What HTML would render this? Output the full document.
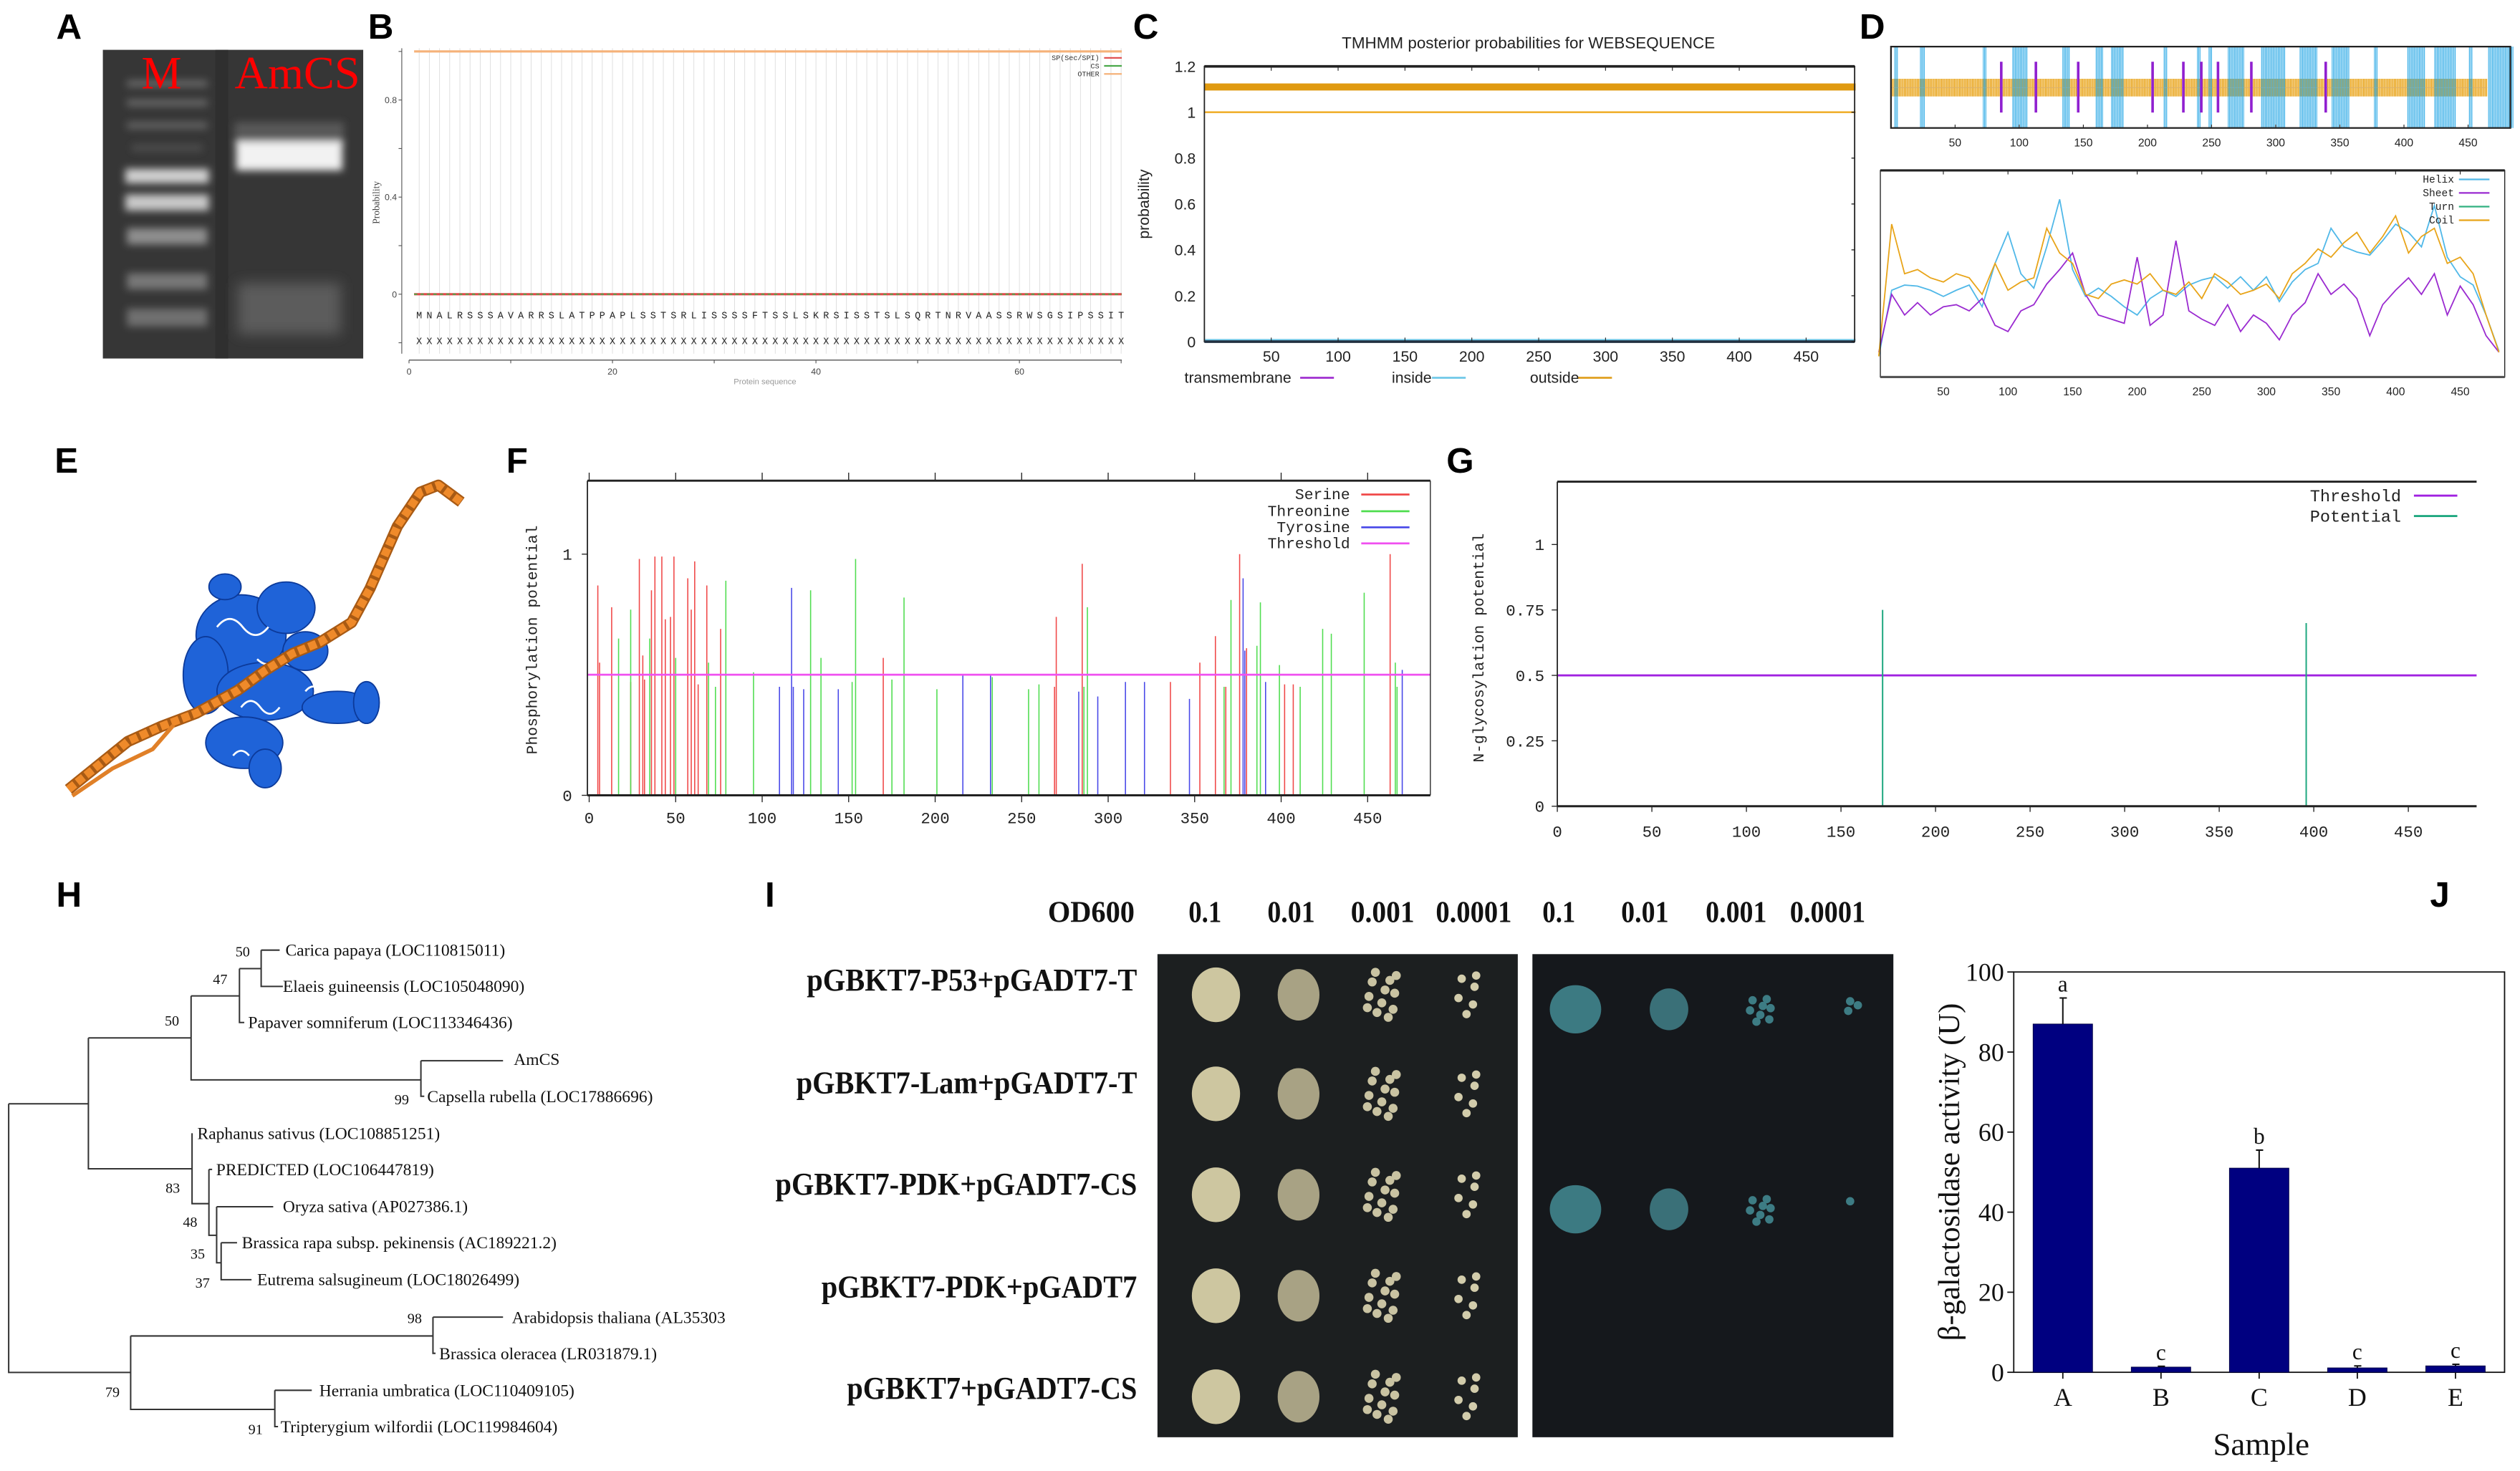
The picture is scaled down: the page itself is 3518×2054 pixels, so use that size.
<!DOCTYPE html>
<html><head><meta charset="utf-8"><style>
html,body{margin:0;padding:0;background:#fff;}
svg{display:block;}
.pl{font-family:"Liberation Sans",sans-serif;font-weight:bold;font-size:22px;}
.tm{font-family:"Liberation Serif",serif;}
.mono{font-family:"Liberation Mono",monospace;}
.sans{font-family:"Liberation Sans",sans-serif;}
</style></head><body>
<svg id="fig" xmlns="http://www.w3.org/2000/svg" width="3518" height="2054" viewBox="0 0 1568 915" preserveAspectRatio="none">
<defs>
<filter id="blur1" x="-30%" y="-100%" width="160%" height="300%"><feGaussianBlur stdDeviation="2.4"/></filter>
<filter id="blur2" x="-30%" y="-60%" width="160%" height="220%"><feGaussianBlur stdDeviation="4"/></filter>
</defs>
<rect x="0" y="0" width="1568" height="915" fill="#fff"/>
<text class="pl" x="35" y="24">A</text>
<text class="pl" x="229" y="24">B</text>
<text class="pl" x="705" y="24">C</text>
<text class="pl" x="1157" y="24">D</text>
<text class="pl" x="34" y="294">E</text>
<text class="pl" x="315" y="294">F</text>
<text class="pl" x="900" y="294">G</text>
<text class="pl" x="35" y="564">H</text>
<text class="pl" x="476" y="564">I</text>
<text class="pl" x="1512" y="564">J</text>

<g>
<rect x="64" y="31" width="162" height="192" fill="#363636"/>
<rect x="134" y="31" width="8" height="192" fill="#2f2f2f"/>
<g filter="url(#blur1)">
<rect x="79" y="50" width="50" height="4" fill="#6a6a6a"/>
<rect x="79" y="62" width="50" height="4" fill="#6a6a6a"/>
<rect x="79" y="76" width="50" height="4" fill="#666"/>
<rect x="82" y="90" width="44" height="4" fill="#505050"/>
<rect x="78" y="105" width="52" height="9" fill="#d0d0d0"/>
<rect x="78" y="121" width="52" height="10" fill="#c8c8c8"/>
<rect x="79" y="142" width="50" height="10" fill="#8e8e8e"/>
<rect x="79" y="170" width="50" height="10" fill="#777"/>
<rect x="79" y="192" width="50" height="11" fill="#707070"/>
</g>
<g filter="url(#blur1)">
<rect x="146" y="76" width="68" height="14" fill="#585858"/>
<rect x="147" y="88" width="66" height="18" fill="#f2f2f2"/>
</g>
<rect x="148" y="176" width="64" height="32" fill="#5c5c5c" filter="url(#blur2)"/>
<text class="tm" x="88" y="55" font-size="29" fill="#ff0000" textLength="25" lengthAdjust="spacingAndGlyphs">M</text>
<text class="tm" x="146" y="55" font-size="29" fill="#ff0000" textLength="78" lengthAdjust="spacingAndGlyphs">AmCS</text>
</g>

<g id="panelB"></g>
<g id="panelC"></g>
<g id="panelD"></g>

<g>
<g fill="#1f63d8" stroke="#0c3a9a" stroke-width="0.8">
<ellipse cx="150" cy="395" rx="28" ry="25"/>
<ellipse cx="178" cy="378" rx="18" ry="16"/>
<ellipse cx="128" cy="420" rx="14" ry="24"/>
<ellipse cx="165" cy="430" rx="30" ry="18"/>
<ellipse cx="152" cy="462" rx="24" ry="16"/>
<ellipse cx="165" cy="478" rx="10" ry="12"/>
<ellipse cx="210" cy="440" rx="22" ry="10"/>
<ellipse cx="228" cy="437" rx="8" ry="13"/>
<ellipse cx="190" cy="405" rx="14" ry="12"/>
<ellipse cx="140" cy="365" rx="10" ry="8"/>
</g>
<g fill="none" stroke="#fff" stroke-width="1.2">
<path d="M135 390 q8 -10 16 0 q8 10 16 0"/><path d="M150 440 q6 -8 12 0 q6 8 12 0"/><path d="M190 430 q5 -6 10 0"/><path d="M145 470 q5 -6 10 0"/><path d="M160 410 q6 6 12 0"/>
</g>
<polyline points="42.6,491 79.6,461.2 100,452 122.2,443.6 147.8,429.5 164.8,417.2 181.9,406.6 198.9,399.6 218.8,387.2 230.2,366.1 238.7,346.7 247.3,327.3 261.5,306.2 272.8,301.8 287,312.3" fill="none" stroke="#a85a14" stroke-width="7" stroke-linejoin="round"/>
<polyline points="42.6,491 79.6,461.2 100,452 122.2,443.6 147.8,429.5 164.8,417.2 181.9,406.6 198.9,399.6 218.8,387.2 230.2,366.1 238.7,346.7 247.3,327.3 261.5,306.2 272.8,301.8 287,312.3" fill="none" stroke="#ef8a2a" stroke-width="5" stroke-dasharray="5 2" stroke-linejoin="round"/>
<polyline points="45,495 70,478 95,466 108,451" fill="none" stroke="#e08028" stroke-width="2.5"/>
</g>

<g id="panelF"></g>
<g id="panelG"></g>

<g>
<path fill="none" stroke="#333" stroke-width="0.9" d="
M162.5 591 H174 M162.5 591 V613.6 H176
M149 602.5 H162.5 M149 602.5 V636 H152
M118.9 619.5 H149 M118.9 619.5 V671.7 H261.9
M261.9 659.8 H313 M261.9 659.8 V681.9 H264
M55 645.6 H118.9 M55 645.6 V727 H119.5
M119.5 704.9 V748.7 H130
M130 727.4 V768.4 H134.8 M130 727.4 H132
M134.8 750.6 H170 M134.8 750.6 V785.5 H137.6
M137.6 773 H147.5 M137.6 773 V796 H156.5
M5.4 686.6 H55 M5.4 686.6 V853.7 H81.3
M81.3 831 H269.4 M81.3 831 V876.7 H171
M269.4 819.3 H313 M269.4 819.3 V841.8 H271
M171 864.8 H194 M171 864.8 V887.4 H173"/>
<g class="tm" font-size="10.5" fill="#111">
<text x="177.6" y="594.5">Carica papaya (LOC110815011)</text>
<text x="176" y="617">Elaeis guineensis (LOC105048090)</text>
<text x="154.4" y="639.5">Papaver somniferum (LOC113346436)</text>
<text x="319.7" y="662.5">AmCS</text>
<text x="265.8" y="685.5">Capsella rubella (LOC17886696)</text>
<text x="122.8" y="708.5">Raphanus sativus (LOC108851251)</text>
<text x="134.5" y="731">PREDICTED (LOC106447819)</text>
<text x="176" y="754">Oryza sativa (AP027386.1)</text>
<text x="150.5" y="776.5">Brassica rapa subsp. pekinensis (AC189221.2)</text>
<text x="160" y="799.5">Eutrema salsugineum (LOC18026499)</text>
<text x="318.5" y="823">Arabidopsis thaliana (AL35303</text>
<text x="273.3" y="845.5">Brassica oleracea (LR031879.1)</text>
<text x="198.7" y="868.5">Herrania umbratica (LOC110409105)</text>
<text x="174.6" y="891">Tripterygium wilfordii (LOC119984604)</text>
</g>
<g class="tm" font-size="9" fill="#111" text-anchor="middle">
<text x="151" y="595">50</text><text x="137" y="612">47</text><text x="107" y="638">50</text><text x="250" y="687">99</text>
<text x="107.5" y="742">83</text><text x="118.3" y="763">48</text><text x="123" y="783">35</text><text x="126" y="801">37</text>
<text x="258" y="823">98</text><text x="159" y="892">91</text><text x="70" y="869">79</text>
</g>
</g>

<g id="panelI"></g>
<g id="panelJ"></g>
</svg>
<script>
const NS='http://www.w3.org/2000/svg';
function mk(tag, attrs, parent){const e=document.createElementNS(NS,tag);for(const k in attrs)e.setAttribute(k,attrs[k]);parent.appendChild(e);return e;}
function tx(str, attrs, parent){const e=mk('text',attrs,parent);e.textContent=str;return e;}

/* ---------- B: SignalP ---------- */
const bSequence='MNALRSSSAVARRSLATPPAPLSSTSRLISSSSFTSSLSKRSISSTSLSQRTNRVAASSRWSGSIPSSIT';
const bOtherProb=1.0;
const bSpProb=0.0;
const bYTicks=[1,0.8,0.6,0.4,0.2,0,-0.2];
const bYLabels=['','0.8','','0.4','','0',''];
const bXTicks=[0,10,20,30,40,50,60,70];
const bXLabels=['0','','20','','40','','60',''];
{
const g=document.getElementById('panelB');
const bx=r=>254.5+r*6.33, by=v=>183-v*151;
for(let i=1;i<=bSequence.length;i++){
 const l=mk('line',{x1:bx(i),x2:bx(i),y1:30,y2:220,stroke:'#dcdcdc','stroke-width':0.4},g);
 
 
 const t=tx(bSequence[i-1],{x:bx(i),y:198,'font-size':6,'text-anchor':'middle',class:'mono',fill:'#222'},g);
 
 
 const t2=tx('X',{x:bx(i),y:214,'font-size':6,'text-anchor':'middle',class:'mono',fill:'#222'},g);
 
 
}
const lo=mk('line',{x1:bx(0.5),x2:698,y1:by(bOtherProb),y2:by(bOtherProb),stroke:'#f5b27a','stroke-width':1.4},g);


const ls=mk('line',{x1:bx(0.5),x2:698,y1:by(bSpProb),y2:by(bSpProb),stroke:'#e04848','stroke-width':1.4},g);


const lc=mk('line',{x1:bx(0.5),x2:698,y1:by(bSpProb),y2:by(bSpProb),stroke:'#4aa84a','stroke-width':0.8,'stroke-dasharray':'2 2'},g);


const ya=mk('line',{x1:250,x2:250,y1:30,y2:220,stroke:'#555','stroke-width':0.5},g);


bYTicks.forEach((v,i)=>{
 const t=mk('line',{x1:248,x2:250,y1:by(v),y2:by(v),stroke:'#555','stroke-width':0.5},g);
 
 
 const lb=tx(bYLabels[i],{x:247,y:by(v)+2,'font-size':5.5,'text-anchor':'end',class:'sans',fill:'#444'},g);
 
 
});
const xa=mk('line',{x1:254.5,x2:698,y1:224,y2:224,stroke:'#555','stroke-width':0.6},g);


bXTicks.forEach((v,i)=>{
 const t=mk('line',{x1:bx(v),x2:bx(v),y1:224,y2:226,stroke:'#555','stroke-width':0.5},g);
 
 
 const lb=tx(bXLabels[i],{x:bx(v),y:233,'font-size':5.5,'text-anchor':'middle',class:'sans',fill:'#444'},g);
 
 
});
const yl=tx('Probability',{x:0,y:0,'font-size':6,'text-anchor':'middle',class:'tm',fill:'#444',transform:'translate(236,126) rotate(-90)'},g);


const xl=tx('Protein sequence',{x:476,y:239,'font-size':5,'text-anchor':'middle',class:'sans',fill:'#999'},g);


const bLeg=[['SP(Sec/SPI)','#e04848',36],['CS','#4aa84a',41],['OTHER','#f5b27a',46]];
bLeg.forEach(d=>{
 const t=tx(d[0],{x:684,y:d[2]+1.5,'font-size':4.5,'text-anchor':'end',class:'mono',fill:'#333'},g);
 
 
 const l=mk('line',{x1:687,x2:698,y1:d[2],y2:d[2],stroke:d[1],'stroke-width':1},g);
 
 
});
}

/* ---------- C: TMHMM ---------- */
const cXTicks=[50,100,150,200,250,300,350,400,450];
const cYTicks=[0,0.2,0.4,0.6,0.8,1,1.2];
const cYLabels=['0','0.2','0.4','0.6','0.8','1','1.2'];
const cSeqLength=487;
const cOutsideBar=1.11;
const cOutsideProb=1.0;
const cInsideProb=0.0;
{
const g=document.getElementById('panelC');
const cx=r=>749.4+r*0.832, cy=v=>212.5-v*142.7;
const t=tx('TMHMM posterior probabilities for WEBSEQUENCE',{x:951,y:30,'font-size':10,'text-anchor':'middle',class:'sans',fill:'#222'},g);


const ob=mk('rect',{x:cx(0),y:cy(cOutsideBar)-2.2,width:cx(cSeqLength)-cx(0),height:4.4,fill:'#e09a10'},g);


const ol=mk('line',{x1:cx(0),x2:cx(cSeqLength),y1:cy(cOutsideProb),y2:cy(cOutsideProb),stroke:'#f0b030','stroke-width':1.2},g);


const il=mk('line',{x1:cx(0),x2:cx(cSeqLength),y1:cy(cInsideProb)-1,y2:cy(cInsideProb)-1,stroke:'#70c8e8','stroke-width':1.2},g);


const fr=mk('rect',{x:749.4,y:41.3,width:404.6,height:171.2,fill:'none',stroke:'#222','stroke-width':0.8},g);


const tl=mk('line',{x1:749.4,x2:1154,y1:41.3,y2:41.3,stroke:'#222','stroke-width':1.6},g);


const bl=mk('line',{x1:749.4,x2:1154,y1:212.5,y2:212.5,stroke:'#223040','stroke-width':1.6},g);


cXTicks.forEach(v=>{
 const a=mk('line',{x1:cx(v),x2:cx(v),y1:41.3,y2:44,stroke:'#222','stroke-width':0.5},g);
 
 
 const b=mk('line',{x1:cx(v),x2:cx(v),y1:210,y2:212.5,stroke:'#222','stroke-width':0.5},g);
 
 
 const lb=tx(String(v),{x:cx(v),y:225,'font-size':9.5,'text-anchor':'middle',class:'sans',fill:'#222'},g);
 
 
});
cYTicks.forEach((v,i)=>{
 const lb=tx(cYLabels[i],{x:744,y:cy(v)+3.5,'font-size':9.5,'text-anchor':'end',class:'sans',fill:'#222'},g);
 
 
 const tk=mk('line',{x1:1152,x2:1154,y1:cy(v),y2:cy(v),stroke:'#222','stroke-width':0.6},g);
 
 
});
const yl=tx('probability',{x:0,y:0,'font-size':9.5,'text-anchor':'middle',class:'sans',fill:'#222',transform:'translate(715,127) rotate(-90)'},g);


const cLeg=[['transmembrane',737,'#a030d0',809],['inside',866,'#70c8e8',891],['outside',952,'#e0a020',982]];
cLeg.forEach(d=>{
 const t=tx(d[0],{x:d[1],y:238,'font-size':9.5,class:'sans',fill:'#222'},g);
 
 
 const l=mk('line',{x1:d[3],x2:d[3]+21,y1:235,y2:235,stroke:d[2],'stroke-width':1.2},g);
 
 
});
}

/* ---------- D: secondary structure ---------- */
const dXTicks=[50,100,150,200,250,300,350,400,450];
const dHelixStart=[3,23,72,95,134,160,172,213,239,248,263,289,319,344,377,403,424,451,466];
const dHelixEnd=[5,26,74,106,139,165,181,215,241,250,275,307,332,357,379,416,440,453,485];
const dSheetPos=[86,113,146,204,228,242,255,281,339];
const dCoilEnd=465;
const dResidues=[0,10,20,30,40,50,60,70,80,90,100,110,120,130,140,150,160,170,180,190,200,210,220,230,240,250,260,270,280,290,300,310,320,330,340,350,360,370,380,390,400,410,420,430,440,450,460,470,480];
const dHelix=[0.10,0.42,0.445,0.44,0.42,0.39,0.42,0.445,0.34,0.55,0.70,0.50,0.43,0.63,0.86,0.52,0.39,0.43,0.39,0.34,0.30,0.38,0.42,0.39,0.445,0.47,0.485,0.43,0.485,0.42,0.485,0.365,0.46,0.52,0.55,0.72,0.63,0.605,0.59,0.66,0.74,0.70,0.63,0.83,0.58,0.485,0.445,0.30,0.125];
const dSheet=[0.12,0.40,0.30,0.36,0.30,0.34,0.35,0.32,0.38,0.25,0.22,0.32,0.35,0.45,0.52,0.60,0.40,0.30,0.28,0.26,0.58,0.25,0.30,0.66,0.32,0.28,0.25,0.35,0.22,0.30,0.26,0.18,0.30,0.36,0.50,0.40,0.45,0.38,0.20,0.35,0.42,0.48,0.40,0.50,0.30,0.44,0.35,0.20,0.12];
const dCoil=[0.10,0.74,0.50,0.52,0.48,0.46,0.50,0.48,0.40,0.55,0.42,0.46,0.48,0.72,0.60,0.55,0.40,0.38,0.45,0.47,0.45,0.50,0.42,0.40,0.46,0.38,0.50,0.46,0.40,0.42,0.45,0.38,0.50,0.55,0.62,0.58,0.65,0.70,0.60,0.68,0.78,0.60,0.68,0.72,0.55,0.58,0.50,0.30,0.12];
{
const g=document.getElementById('panelD');
const tx1=r=>1176.6+r*0.798;
for(let r=0;r<dCoilEnd;r+=1){
 const c=mk('line',{x1:tx1(r)+0.4,x2:tx1(r)+0.4,y1:49,y2:60,stroke:'#e8a010','stroke-width':0.55},g);
 
 
}
const cl=mk('line',{x1:tx1(0),x2:tx1(dCoilEnd),y1:54.5,y2:54.5,stroke:'#d8b070','stroke-width':0.4},g);


for(let i=0;i<dHelixStart.length;i++){
 for(let r=dHelixStart[i];r<=dHelixEnd[i];r+=1){
  const h=mk('line',{x1:tx1(r),x2:tx1(r),y1:29,y2:79.6,stroke:'#3cb0e8','stroke-width':0.5},g);
  
  
 }
}
dSheetPos.forEach(p=>{
 const r=mk('rect',{x:tx1(p)-0.8,y:38.4,width:1.6,height:31.6,fill:'#9020d0'},g);
 
 
});
const f1=mk('rect',{x:1176.6,y:29,width:385.4,height:50.6,fill:'none',stroke:'#222','stroke-width':1},g);


dXTicks.forEach(v=>{
 const lb=tx(String(v),{x:tx1(v),y:91,'font-size':7,'text-anchor':'middle',class:'sans',fill:'#222'},g);
 
 
 const tk=mk('line',{x1:tx1(v),x2:tx1(v),y1:77.5,y2:79.6,stroke:'#222','stroke-width':0.5},g);
 
 
});
const bx2=r=>1169+r*0.804, by2=v=>234.5-v*128.5;
const series=[['helix-line',dHelix,'#50b8e8'],['sheet-line',dSheet,'#9a2ad0'],['coil-line',dCoil,'#e8a418']];
series.forEach(s=>{
 const pts=dResidues.map((r,i)=>bx2(r)+','+by2(s[1][i])).join(' ');
 const pl=mk('polyline',{points:pts,fill:'none',stroke:s[2],'stroke-width':0.8},g);
 
 
});
const f2=mk('rect',{x:1170,y:106,width:388.5,height:128.5,fill:'none',stroke:'#222','stroke-width':0.6},g);


const t2=mk('line',{x1:1170,x2:1558.5,y1:106,y2:106,stroke:'#222','stroke-width':1.4},g);


const b2=mk('line',{x1:1170,x2:1558.5,y1:234.5,y2:234.5,stroke:'#555','stroke-width':1.4},g);


dXTicks.forEach(v=>{
 const lb=tx(String(v),{x:bx2(v),y:246,'font-size':7,'text-anchor':'middle',class:'sans',fill:'#222'},g);
 
 
 const tk=mk('line',{x1:bx2(v),x2:bx2(v),y1:106,y2:108.5,stroke:'#222','stroke-width':0.5},g);
 
 
});
const dLeg=[['Helix','#50b8e8',111.6],['Sheet','#9a2ad0',120],['Turn','#30b080',128.5],['Coil','#e8a418',137]];
dLeg.forEach(d=>{
 const t=tx(d[0],{x:1527,y:d[2]+2,'font-size':6.5,'text-anchor':'end',class:'mono',fill:'#222'},g);
 
 
 const l=mk('line',{x1:1530,x2:1549,y1:d[2],y2:d[2],stroke:d[1],'stroke-width':1},g);
 
 
});
}

/* ---------- F: phosphorylation ---------- */
const fSerinePos=[5,6,13,24,29,31,32,36,38,42,44,47,49,57,59,61,63,68,76,170,269,270,285,336,353,362,368,376,380,402,407,463];
const fSerineVal=[0.87,0.55,0.78,0.47,0.98,0.58,0.48,0.85,0.99,0.99,0.73,0.74,0.99,0.90,0.77,0.97,0.46,0.87,0.69,0.57,0.45,0.74,0.96,0.47,0.55,0.66,0.45,1.0,0.61,0.46,0.46,1.0];
const fThreoninePos=[17,24,35,50,69,73,79,95,128,134,152,154,175,182,201,233,254,260,286,288,367,371,386,388,399,411,424,429,448,466,467];
const fThreonineVal=[0.65,0.77,0.65,0.57,0.55,0.45,0.89,0.51,0.85,0.57,0.47,0.98,0.48,0.82,0.44,0.49,0.44,0.46,0.45,0.78,0.45,0.81,0.62,0.80,0.54,0.45,0.69,0.67,0.84,0.55,0.45];
const fTyrosinePos=[110,117,118,124,144,216,232,283,294,310,321,347,378,379,391,470];
const fTyrosineVal=[0.45,0.86,0.45,0.44,0.44,0.50,0.50,0.43,0.41,0.47,0.47,0.40,0.90,0.60,0.47,0.52];
const fThreshold=0.5;
const fXTicks=[0,50,100,150,200,250,300,350,400,450];
const fYTicks=[0,1];
{
const g=document.getElementById('panelF');
const fx=r=>366.6+r*1.0764, fy=v=>494.7-v*150;
const groups=[['serine-bar',fSerinePos,fSerineVal,'#f04848'],['threonine-bar',fThreoninePos,fThreonineVal,'#50dd50'],['tyrosine-bar',fTyrosinePos,fTyrosineVal,'#4848e8']];
groups.forEach(s=>{
 s[1].forEach((p,i)=>{
  const l=mk('line',{x1:fx(p),x2:fx(p),y1:fy(0),y2:fy(s[2][i]),stroke:s[3],'stroke-width':0.7},g);
  
  
 });
});
const th=mk('line',{x1:365.5,x2:890,y1:fy(fThreshold),y2:fy(fThreshold),stroke:'#f050f0','stroke-width':1.2},g);


const top=mk('line',{x1:365.5,x2:890,y1:299,y2:299,stroke:'#222','stroke-width':1.3},g);


const bot=mk('line',{x1:365.5,x2:890,y1:494.7,y2:494.7,stroke:'#222','stroke-width':1.3},g);


const lft=mk('line',{x1:365.5,x2:365.5,y1:299,y2:494.7,stroke:'#222','stroke-width':0.8},g);


const rgt=mk('line',{x1:890,x2:890,y1:299,y2:494.7,stroke:'#222','stroke-width':0.6},g);


fXTicks.forEach(v=>{
 const a=mk('line',{x1:fx(v),x2:fx(v),y1:294,y2:299,stroke:'#222','stroke-width':0.6},g);
 
 
 const b=mk('line',{x1:fx(v),x2:fx(v),y1:494.7,y2:499,stroke:'#222','stroke-width':0.6},g);
 
 
 const lb=tx(String(v),{x:fx(v),y:512,'font-size':10,'text-anchor':'middle',class:'mono',fill:'#222'},g);
 
 
});
fYTicks.forEach(v=>{
 const lb=tx(String(v),{x:356,y:fy(v)+3.5,'font-size':10,'text-anchor':'end',class:'mono',fill:'#222'},g);
 
 
 const tk=mk('line',{x1:362,x2:365.5,y1:fy(v),y2:fy(v),stroke:'#222','stroke-width':0.6},g);
 
 
});
const yl=tx('Phosphorylation potential',{x:0,y:0,'font-size':9.5,'text-anchor':'middle',class:'mono',fill:'#222',transform:'translate(334,398) rotate(-90)'},g);


const fLeg=[['Serine','#f04848',307.6],['Threonine','#50dd50',318],['Tyrosine','#4848e8',328],['Threshold','#f050f0',338]];
fLeg.forEach(d=>{
 const t=tx(d[0],{x:840,y:d[2]+3,'font-size':9.5,'text-anchor':'end',class:'mono',fill:'#222'},g);
 
 
 const l=mk('line',{x1:847,x2:877,y1:d[2],y2:d[2],stroke:d[1],'stroke-width':1.2},g);
 
 
});
}

/* ---------- G: N-glycosylation ---------- */
const gSitePos=[172,396];
const gSiteVal=[0.75,0.70];
const gThreshold=0.5;
const gXTicks=[0,50,100,150,200,250,300,350,400,450];
const gYTicks=[0,0.25,0.5,0.75,1];
const gYLabels=['0','0.25','0.5','0.75','1'];
{
const g=document.getElementById('panelG');
const gx=r=>969+r*1.1767, gy=v=>501.5-v*162.8;
const th=mk('line',{x1:969,x2:1541,y1:gy(gThreshold),y2:gy(gThreshold),stroke:'#a020e0','stroke-width':1.3},g);


gSitePos.forEach((p,i)=>{
 const l=mk('line',{x1:gx(p),x2:gx(p),y1:gy(0),y2:gy(gSiteVal[i]),stroke:'#20a880','stroke-width':0.9},g);
 
 
});
const top=mk('line',{x1:969,x2:1541,y1:299.6,y2:299.6,stroke:'#222','stroke-width':1.3},g);


const bot=mk('line',{x1:969,x2:1541,y1:501.5,y2:501.5,stroke:'#222','stroke-width':1.3},g);


const lft=mk('line',{x1:969,x2:969,y1:299.6,y2:501.5,stroke:'#222','stroke-width':0.8},g);


gXTicks.forEach(v=>{
 const b=mk('line',{x1:gx(v),x2:gx(v),y1:501.5,y2:505,stroke:'#222','stroke-width':0.6},g);
 
 
 const lb=tx(String(v),{x:gx(v),y:520.5,'font-size':10,'text-anchor':'middle',class:'mono',fill:'#222'},g);
 
 
});
gYTicks.forEach((v,i)=>{
 const lb=tx(gYLabels[i],{x:961,y:gy(v)+3.5,'font-size':10,'text-anchor':'end',class:'mono',fill:'#222'},g);
 
 
 const tk=mk('line',{x1:965.5,x2:969,y1:gy(v),y2:gy(v),stroke:'#222','stroke-width':0.6},g);
 
 
});
const yl=tx('N-glycosylation potential',{x:0,y:0,'font-size':9.5,'text-anchor':'middle',class:'mono',fill:'#222',transform:'translate(923,403) rotate(-90)'},g);


const gLeg=[['Threshold','#a020e0',308.3],['Potential','#20a880',321]];
gLeg.forEach(d=>{
 const t=tx(d[0],{x:1494,y:d[2]+3.5,'font-size':10.5,'text-anchor':'end',class:'mono',fill:'#222'},g);
 
 
 const l=mk('line',{x1:1502,x2:1529,y1:d[2],y2:d[2],stroke:d[1],'stroke-width':1.3},g);
 
 
});
}

/* ---------- I: yeast two-hybrid ---------- */
const iDilutions=['0.1','0.01','0.001','0.0001','0.1','0.01','0.001','0.0001'];
const iConstructs=['pGBKT7-P53+pGADT7-T','pGBKT7-Lam+pGADT7-T','pGBKT7-PDK+pGADT7-CS','pGBKT7-PDK+pGADT7','pGBKT7+pGADT7-CS'];
const iPositiveRows=[0,2];
{
const g=document.getElementById('panelI');
const hx=[749.8,803.4,860.3,917,970,1023.5,1080.3,1137.2];
const hw=[20.5,29.6,39.6,47.3,20.5,29.6,38,47];
const od=tx('OD600',{x:679,y:573.5,'font-size':19,'font-weight':'bold','text-anchor':'middle',class:'tm',fill:'#111',textLength:54,lengthAdjust:'spacingAndGlyphs'},g);


iDilutions.forEach((d,i)=>{
 const t=tx(d,{x:hx[i],y:573.5,'font-size':19,'font-weight':'bold','text-anchor':'middle',class:'tm',fill:'#111',textLength:hw[i],lengthAdjust:'spacingAndGlyphs'},g);
 
 
});
const lp=mk('rect',{x:720.2,y:593.5,width:224.2,height:300.5,fill:'#1c1f20'},g);


const rp=mk('rect',{x:953.5,y:593.5,width:224.6,height:300.5,fill:'#15181c'},g);


const rowY=[614.8,676.4,739.2,802,864.8];
const rowBase=[616,680,743,807,870];
const rowW=[205.5,212,225,196.4,180.5];
const colX=[756.6,808,859.8,912.5];
const colXR=[980.3,1038.5,1095.3,1153];
const dotOff=[[-6,-8],[5,-9],[8,-1],[-8,1],[0,5],[-3,11],[7,9],[2,-3],[-9,8],[9,-12],[-4,-14],[4,14]];
const fewOff=[[-3,-10],[5,-5],[-5,2],[4,6],[0,12],[6,-12]];
iConstructs.forEach((c,ri)=>{
 const t=tx(c,{x:707.5,y:rowBase[ri],'font-size':20,'font-weight':'bold','text-anchor':'end',class:'tm',fill:'#111',textLength:rowW[ri],lengthAdjust:'spacingAndGlyphs'},g);
 
 
 const y=rowY[ri]+4;
 const s1=mk('ellipse',{cx:colX[0],cy:y,rx:15,ry:17,fill:'#cdc6a0'},g);
 
 
 const s2=mk('ellipse',{cx:colX[1],cy:y,rx:13,ry:16,fill:'#a8a284'},g);
 
 
 dotOff.forEach(o=>{
  const d=mk('circle',{cx:colX[2]+o[0],cy:y+o[1],r:2.8,fill:'#c9c3a2'},g);
  
  
 });
 fewOff.forEach(o=>{
  const d=mk('circle',{cx:colX[3]+o[0],cy:y+o[1],r:2.6,fill:'#d2ccab'},g);
  
  
 });
 if(iPositiveRows.indexOf(ri)>=0){
  const yb=rowY[ri]+13;
  const b1=mk('ellipse',{cx:colXR[0],cy:yb,rx:16,ry:15,fill:'#3c7a82'},g);
  
  
  const b2=mk('ellipse',{cx:colXR[1],cy:yb,rx:12,ry:13,fill:'#3a7078'},g);
  
  
  dotOff.slice(0,8).forEach(o=>{
   const d=mk('circle',{cx:colXR[2]+o[0]*0.8,cy:yb+o[1]*0.7,r:2.6,fill:'#3d7c84'},g);
   
   
  });
  fewOff.slice(0,ri===0?3:1).forEach(o=>{
   const d=mk('circle',{cx:colXR[3]+o[0]*0.6,cy:yb+o[1]*0.5,r:2.6,fill:'#3d7c84'},g);
   
   
  });
 }
});
}

/* ---------- J: beta-galactosidase ---------- */
const jCategories=['A','B','C','D','E'];
const jValues=[87,1.3,51,1.1,1.6];
const jErrors=[6.5,0.2,4.5,0.5,0.4];
const jLetters=['a','c','b','c','c'];
const jTicks=[0,20,40,60,80,100];
{
const g=document.getElementById('panelJ');
const X0=1253,X1=1558.4,Y0=853.6,Y1=604.6;
const band=(X1-X0)/jCategories.length;
const jx=i=>X0+band*(i+0.5), jy=v=>Y0-(v/100)*(Y0-Y1);
const fr=mk('rect',{x:X0,y:Y1,width:X1-X0,height:Y0-Y1,fill:'none',stroke:'#111','stroke-width':0.8},g);


jCategories.forEach((c,i)=>{
 const b=mk('rect',{x:jx(i)-18.5,y:jy(jValues[i]),width:37,height:Y0-jy(jValues[i]),fill:'#000080',stroke:'#000040','stroke-width':0.4},g);
 
 
 const top=jy(jValues[i]+jErrors[i]);
 const e=mk('path',{d:'M'+jx(i)+' '+jy(jValues[i])+' V'+top+' M'+(jx(i)-2)+' '+top+' H'+(jx(i)+2.5),stroke:'#111','stroke-width':0.9,fill:'none'},g);
 
 
 const l=tx(jLetters[i],{x:jx(i),y:top-4,'font-size':14,'text-anchor':'middle',class:'tm',fill:'#111'},g);
 
 
 const tk=mk('line',{x1:jx(i),x2:jx(i),y1:Y0,y2:Y0+4,stroke:'#111','stroke-width':0.8},g);
 
 
 const cl=tx(c,{x:jx(i),y:874.5,'font-size':16,'text-anchor':'middle',class:'tm',fill:'#111'},g);
 
 
});
jTicks.forEach(v=>{
 const tk=mk('line',{x1:X0-4,x2:X0,y1:jy(v),y2:jy(v),stroke:'#111','stroke-width':0.8},g);
 
 
 const lb=tx(String(v),{x:X0-6,y:jy(v)+5.5,'font-size':16,'text-anchor':'end',class:'tm',fill:'#111'},g);
 
 
});
const yl=tx('β-galactosidase activity (U)',{x:0,y:0,'font-size':19,'text-anchor':'middle',class:'tm',fill:'#111',transform:'translate(1219,729) rotate(-90)'},g);


const xl=tx('Sample',{x:1407,y:905,'font-size':20,'text-anchor':'middle',class:'tm',fill:'#111'},g);


}
</script>
</body></html>
